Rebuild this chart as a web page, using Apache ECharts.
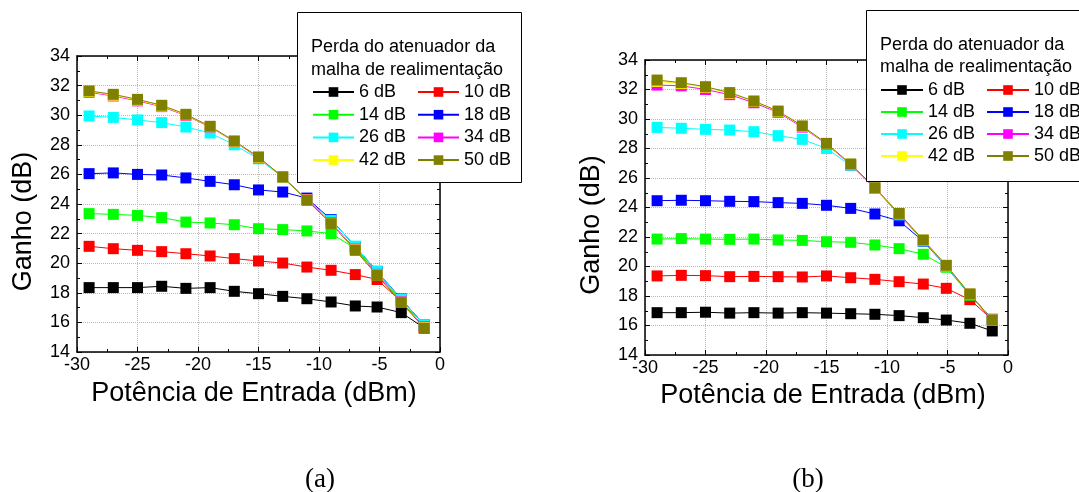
<!DOCTYPE html>
<html>
<head>
<meta charset="utf-8">
<script src="https://cdn.jsdelivr.net/npm/echarts@6/dist/echarts.min.js"></script>
<style>
html,body{margin:0;padding:0;background:#fff;}
#chart{width:1079px;height:492px;}
</style>
</head>
<body>
<div id="chart"></div>
<script>
// ---- Data ----
const seriesNames = ['6 dB','10 dB','14 dB','18 dB','26 dB','34 dB','42 dB','50 dB'];
const seriesColors = ['#000000','#ff0000','#00ff00','#0000ff','#00ffff','#ff00ff','#ffff00','#808000'];
const legendCol1 = ['6 dB','14 dB','26 dB','42 dB'];
const legendCol2 = ['10 dB','18 dB','34 dB','50 dB'];

// (a)
const xA = [-29,-27,-25,-23,-21,-19,-17,-15,-13,-11,-9,-7,-5.2,-3.2,-1.3];
const a6  = [18.35,18.35,18.35,18.44,18.3,18.35,18.1,17.94,17.76,17.6,17.38,17.11,17.04,16.66,15.62];
const a10 = [21.14,20.98,20.87,20.78,20.64,20.49,20.31,20.15,20.01,19.74,19.52,19.23,18.9,17.4,15.65];
const a14 = [23.35,23.3,23.23,23.08,22.78,22.72,22.6,22.33,22.27,22.18,22.0,21.0,19.35,17.5,15.85];
const a18 = [26.05,26.1,26.0,25.96,25.76,25.53,25.3,24.95,24.81,24.4,22.95,21.12,19.45,17.58,15.83];
const a26 = [29.95,29.85,29.68,29.5,29.2,28.8,28.0,27.05,25.8,24.3,22.9,21.15,19.45,17.55,15.85];
const a34 = [31.55,31.3,30.97,30.58,29.98,29.2,28.22,27.12,25.85,24.3,22.75,20.95,19.25,17.4,15.7];
const a42 = [31.6,31.35,31.02,30.62,30.02,29.22,28.24,27.15,25.82,24.27,22.7,20.9,19.2,17.36,15.64];
const a50 = [31.64,31.41,31.07,30.67,30.06,29.25,28.26,27.18,25.82,24.25,22.67,20.87,19.18,17.34,15.6];

// (b)
const xB = [-29,-27,-25,-23,-21,-19,-17,-15,-13,-11,-9,-7,-5.1,-3.15,-1.3];
const b6  = [16.87,16.87,16.9,16.84,16.87,16.84,16.87,16.84,16.8,16.76,16.67,16.53,16.37,16.15,15.63];
const b10 = [19.36,19.4,19.38,19.31,19.33,19.31,19.29,19.36,19.24,19.13,18.97,18.81,18.52,17.75,16.4];
const b14 = [21.86,21.89,21.86,21.84,21.86,21.8,21.77,21.68,21.64,21.46,21.21,20.83,19.95,18.05,16.4];
const b18 = [24.46,24.49,24.46,24.42,24.4,24.33,24.28,24.15,23.94,23.56,23.1,21.7,20.0,18.1,16.42];
const b26 = [29.43,29.37,29.3,29.25,29.14,28.87,28.62,28.0,26.85,25.3,23.5,21.72,20.0,18.1,16.42];
const b34 = [32.3,32.25,32.0,31.65,31.1,30.45,29.45,28.3,26.9,25.3,23.55,21.75,20.05,18.12,16.38];
const b42 = [32.55,32.4,32.15,31.75,31.2,30.5,29.5,28.33,26.93,25.32,23.58,21.78,20.06,18.13,16.37];
const b50 = [32.64,32.46,32.19,31.79,31.22,30.54,29.53,28.35,26.95,25.34,23.6,21.8,20.08,18.14,16.37];

const xMin = -30, xMax = 0, xInterval = 5;
const yMin = 14, yMax = 34, yInterval = 2;
const xTitle = 'Potência de Entrada (dBm)';
const yTitle = 'Ganho (dB)';
const legendTitle = 'Perda do atenuador da\nmalha de realimentação';
const panelLabels = ['(a)', '(b)'];

const seriesA = [a6,a10,a14,a18,a26,a34,a42,a50];
const seriesB = [b6,b10,b14,b18,b26,b34,b42,b50];

// ---- Styling ----
const FONT = 'Liberation Sans, Arial, sans-serif';
const grids = [
  {left: 77, top: 56, width: 363, height: 296},
  {left: 645, top: 60, width: 363, height: 295}
];
const xNameGap = [28.5, 25.5];
const xNamePad = [9, 7];

function xAxes(g) {
  const base = {
    gridIndex: g, type: 'value', min: xMin, max: xMax, interval: xInterval,
    axisLine: {show: true, onZero: false, lineStyle: {color: '#000', width: 1.5}},
    axisTick: {show: true, inside: true, length: 5, lineStyle: {color: '#000', width: 1}},
    minorTick: {show: true, splitNumber: 2, length: 3, lineStyle: {color: '#000', width: 1}},
  };
  return [
    Object.assign({}, base, {
      position: 'bottom',
      axisLabel: {show: true, fontSize: 18, color: '#000', fontFamily: FONT, margin: 4},
      splitLine: {show: true, lineStyle: {type: 'dotted', color: '#b8b8b8', width: 1}},
      name: xTitle, nameLocation: 'middle', nameGap: xNameGap[g],
      nameTextStyle: {fontSize: 27, color: '#000', fontFamily: FONT, lineHeight: 27, padding: [0, xNamePad[g], 0, 0]}
    }),
    Object.assign({}, base, {
      position: 'top', axisLabel: {show: false}, splitLine: {show: false}
    })
  ];
}
function yAxes(g) {
  const base = {
    gridIndex: g, type: 'value', min: yMin, max: yMax, interval: yInterval,
    axisLine: {show: true, onZero: false, lineStyle: {color: '#000', width: 1.5}},
    axisTick: {show: true, inside: true, length: 5, lineStyle: {color: '#000', width: 1}},
    minorTick: {show: true, splitNumber: 2, length: 3, lineStyle: {color: '#000', width: 1}},
  };
  return [
    Object.assign({}, base, {
      position: 'left',
      axisLabel: {show: true, fontSize: 18, color: '#000', fontFamily: FONT, margin: 7},
      splitLine: {show: true, lineStyle: {type: 'dotted', color: '#b8b8b8', width: 1}},
      name: yTitle, nameLocation: 'middle', nameGap: 39.5,
      nameTextStyle: {fontSize: 27, color: '#000', fontFamily: FONT, lineHeight: 27, padding: [0, 35, 0, 0]}
    }),
    Object.assign({}, base, {
      position: 'right', axisLabel: {show: false}, splitLine: {show: false}
    })
  ];
}

const series = [];
[[xA, seriesA, 0], [xB, seriesB, 1]].forEach(([xs, ys, g]) => {
  ys.forEach((vals, i) => {
    series.push({
      type: 'line', name: seriesNames[i],
      xAxisIndex: g * 2, yAxisIndex: g * 2,
      data: xs.map((x, k) => [x, vals[k]]),
      symbol: 'rect', symbolSize: 11,
      color: seriesColors[i],
      itemStyle: {color: seriesColors[i]},
      lineStyle: {color: seriesColors[i], width: 1},
      emphasis: {disabled: true},
      z: 2
    });
  });
});

function legend(data, left, top, gap, iw) {
  return {
    data: data, orient: 'vertical', left: left, top: top, padding: 0,
    itemGap: gap, itemWidth: iw, itemHeight: 12, selectedMode: false, z: 20,
    textStyle: {fontSize: 18, color: '#000', fontFamily: FONT, lineHeight: 18, padding: [0, 0, 0, 0]},
    inactiveColor: '#000'
  };
}

const option = {
  animation: false,
  backgroundColor: '#fff',
  grid: grids,
  xAxis: [...xAxes(0), ...xAxes(1)],
  yAxis: [...yAxes(0), ...yAxes(1)],
  title: [
    {text: legendTitle, left: 311, top: 35.5, padding: 0, z: 20,
     textStyle: {fontSize: 18, fontWeight: 'normal', color: '#000', fontFamily: FONT, lineHeight: 23}},
    {text: legendTitle, left: 880, top: 34, padding: 0, z: 20,
     textStyle: {fontSize: 18, fontWeight: 'normal', color: '#000', fontFamily: FONT, lineHeight: 22}}
  ],
  legend: [
    legend(legendCol1, 312, 83, 4.7, 41),
    legend(legendCol2, 417, 83, 4.7, 41),
    legend(legendCol1, 880, 81, 4, 42),
    legend(legendCol2, 986, 81, 4, 42)
  ],
  graphic: [
    {type: 'rect', z: 15, shape: {x: 297.5, y: 12.5, width: 224, height: 170},
     style: {fill: '#fff', stroke: '#000', lineWidth: 1}},
    {type: 'rect', z: 15, shape: {x: 866.5, y: 10.5, width: 240, height: 171},
     style: {fill: '#fff', stroke: '#000', lineWidth: 1}},
    {type: 'text', z: 15, x: 320, y: 480,
     style: {text: panelLabels[0], fontSize: 27, fontFamily: 'Liberation Serif, Times New Roman, serif', fill: '#000', align: 'center', verticalAlign: 'middle'}},
    {type: 'text', z: 15, x: 808, y: 480,
     style: {text: panelLabels[1], fontSize: 27, fontFamily: 'Liberation Serif, Times New Roman, serif', fill: '#000', align: 'center', verticalAlign: 'middle'}}
  ],
  series: series
};

const chart = echarts.init(document.getElementById('chart'), null, {renderer: 'canvas'});
chart.setOption(option);
</script>
</body>
</html>
